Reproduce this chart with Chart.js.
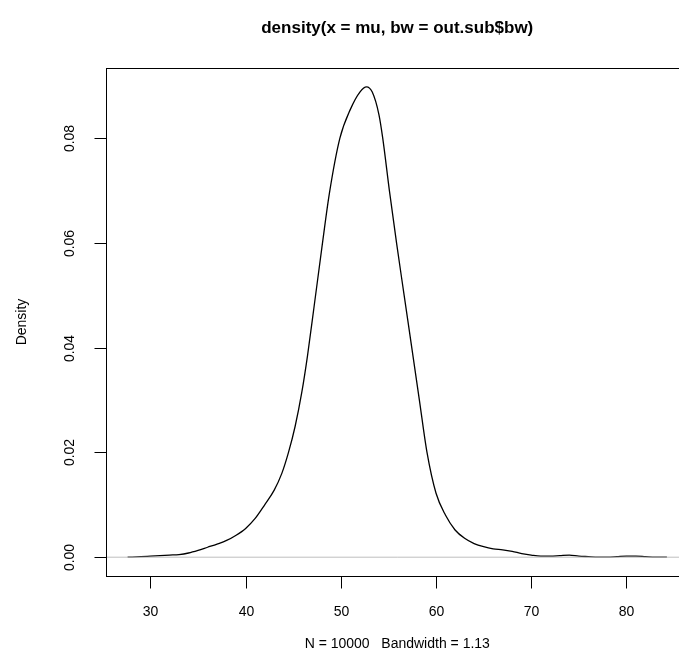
<!DOCTYPE html>
<html>
<head>
<meta charset="utf-8">
<script src="https://cdn.jsdelivr.net/npm/chart.js@4/dist/chart.umd.min.js"></script>
<style>
  html, body { margin: 0; padding: 0; background: #fff; overflow: hidden; }
</style>
</head>
<body>
<canvas id="myChart" width="700" height="672"></canvas>
<script>
const densX = [27.6, 29, 30, 31, 32, 33, 34, 35, 36, 37, 38, 39, 40, 41, 42, 43, 43.8, 44.5, 45.2, 45.9, 46.5, 47.2, 48, 48.8, 49.9, 51, 52, 52.7, 53.3, 54, 54.4, 55.1, 55.85, 56.65, 57.45, 58.25, 59.05, 60, 61, 62, 63, 64, 65, 66, 67, 68, 69, 70, 71, 72, 73, 74, 75, 76, 77, 78, 79, 80, 81, 82, 83, 84.25];
const densY = [0.0000, 0.0001, 0.0002, 0.0003, 0.0004, 0.0005, 0.0008, 0.0013, 0.0019, 0.0025, 0.0032, 0.0042, 0.0055, 0.0074, 0.0100, 0.0128, 0.0160, 0.0200, 0.0250, 0.0315, 0.0385, 0.0480, 0.0590, 0.0695, 0.0800, 0.0855, 0.0888, 0.0898, 0.0888, 0.0845, 0.0800, 0.0700, 0.0600, 0.0500, 0.0400, 0.0300, 0.0200, 0.0122, 0.0080, 0.0052, 0.0036, 0.0026, 0.0020, 0.0016, 0.0014, 0.0011, 0.0007, 0.0004, 0.0002, 0.0002, 0.0003, 0.0004, 0.0002, 0.0001, 0.0000, 0.0000, 0.0001, 0.0002, 0.0002, 0.0001, 0.0000, 0.0000];

const xTicks = [30, 40, 50, 60, 70, 80];
const yTicks = [0, 0.02, 0.04, 0.06, 0.08];
const yTickLabels = ["0.00", "0.02", "0.04", "0.06", "0.08"];

const title = "density(x = mu, bw = out.sub$bw)";
const xLabel = "N = 10000   Bandwidth = 1.13";
const yLabel = "Density";

// limites façon R (étendues de 4 %)
const xMin = 25.33, xMax = 86.52;
const yMin = -0.00359, yMax = 0.0934;

const FONT = "'Liberation Sans', Arial, Helvetica, sans-serif";

const rAxes = {
  id: "rAxes",
  afterDraw(chart) {
    const ctx = chart.ctx;
    const { left, right, top, bottom } = chart.chartArea;
    const sx = chart.scales.x;
    const sy = chart.scales.y;
    ctx.save();
    ctx.strokeStyle = "#000";
    ctx.lineWidth = 1;
    // cadre
    ctx.strokeRect(Math.round(left) + 0.5, Math.round(top) + 0.5,
      Math.round(right - left), Math.round(bottom - top));
    // axe x
    ctx.fillStyle = "#000";
    ctx.font = "14px " + FONT;
    ctx.textAlign = "center";
    ctx.textBaseline = "middle";
    xTicks.forEach((v) => {
      const px = Math.round(sx.getPixelForValue(v)) + 0.5;
      ctx.beginPath();
      ctx.moveTo(px, Math.round(bottom) + 0.5);
      ctx.lineTo(px, Math.round(bottom) + 12.5);
      ctx.stroke();
      ctx.fillText(String(v), px, 612);
    });
    // axe y
    yTicks.forEach((v, i) => {
      const py = Math.round(sy.getPixelForValue(v)) + 0.5;
      ctx.beginPath();
      ctx.moveTo(Math.round(left) + 0.5, py);
      ctx.lineTo(Math.round(left) - 11.5, py);
      ctx.stroke();
      ctx.save();
      ctx.translate(70, py);
      ctx.rotate(-Math.PI / 2);
      ctx.fillText(yTickLabels[i], 0, 0);
      ctx.restore();
    });
    // titres
    const cx = (left + right) / 2;
    ctx.fillText(xLabel, cx, 644);
    ctx.save();
    ctx.translate(22, (top + bottom) / 2);
    ctx.rotate(-Math.PI / 2);
    ctx.fillText(yLabel, 0, 0);
    ctx.restore();
    ctx.font = "bold 17px " + FONT;
    ctx.fillText(title, cx, 28);
    ctx.restore();
  },
};

const ctx = document.getElementById("myChart").getContext("2d");
const myChart = new Chart(ctx, {
  type: "line",
  data: {
    datasets: [
      {
        label: "zero",
        data: [{ x: xMin, y: 0 }, { x: xMax, y: 0 }],
        borderColor: "#bebebe",
        borderWidth: 1,
        pointRadius: 0,
        order: 0,
      },
      {
        label: "densité",
        data: densX.map((x, i) => ({ x: x, y: densY[i] })),
        borderColor: "#000",
        borderWidth: 1.3,
        pointRadius: 0,
        cubicInterpolationMode: "monotone",
        order: 1,
      },
    ],
  },
  options: {
    responsive: false,
    animation: false,
    layout: { padding: { left: 106, top: 68, right: 11.5, bottom: 96 } },
    plugins: { legend: { display: false }, tooltip: { enabled: false } },
    scales: {
      x: { type: "linear", min: xMin, max: xMax, display: false },
      y: { type: "linear", min: yMin, max: yMax, display: false },
    },
  },
  plugins: [rAxes],
});
</script>
</body>
</html>
